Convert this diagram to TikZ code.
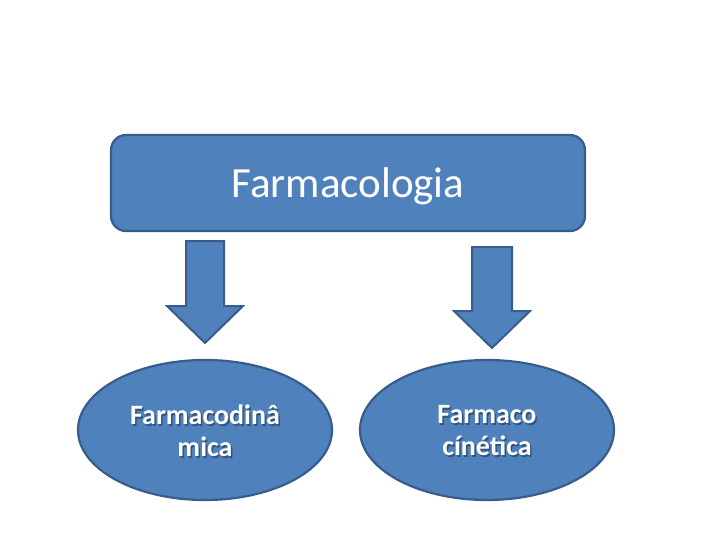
\documentclass[tikz,border=0pt]{standalone}
\usepackage{fontspec}
\setmainfont{Carlito}
\usetikzlibrary{shapes.geometric}
\definecolor{ofill}{HTML}{4F81BD}
\definecolor{oline}{HTML}{385D8A}
\definecolor{tshadow}{HTML}{1F3550}
\tikzset{
  blk/.style={fill=ofill, draw=oline, line width=2.2pt, line join=round},
  topbox/.style={blk, rounded corners=15pt, minimum width=474pt, minimum height=96pt, inner sep=0pt},
  oval/.style={blk, ellipse, minimum width=254pt, minimum height=140pt, inner sep=0pt},
  ovaltext/.style={font=\fontsize{28}{32}\selectfont\bfseries, align=center, text=white},
  shadowtext/.style={font=\fontsize{28}{32}\selectfont\bfseries, align=center, text=tshadow, opacity=0.6},
  blockarrow/.style={blk, line width=2pt, line join=miter}
}
\begin{document}
\begin{tikzpicture}[x=1pt,y=-1pt]
\useasboundingbox (0,0) rectangle (720,540);
% top box
\node[topbox] (farm) at (348,183) {};
\node[text=white, font=\fontsize{43}{48}\selectfont, anchor=base] (farmt) at (348,198) {Farmacologia};
% block arrows
\draw[blockarrow] (186,241) -- (224,241) -- (224,306) -- (243,306) -- (205,343) -- (167,306) -- (186,306) -- cycle;
\draw[blockarrow] (472,247) -- (512,247) -- (512,311) -- (530,311) -- (492,348) -- (454,311) -- (472,311) -- cycle;
% ellipses
\node[oval] (dyn) at (205,430) {};
\node[oval] (kin) at (487,430) {};
\node[shadowtext] at (206.5,432.5) {Farmacodinâ\\mica};
\node[ovaltext] (dynt) at (205,431) {Farmacodinâ\\mica};
\node[shadowtext] at (488.5,432.5) {Farmaco\\cínética};
\node[ovaltext] (kint) at (487,431) {Farmaco\\cínética};
\end{tikzpicture}
\end{document}
